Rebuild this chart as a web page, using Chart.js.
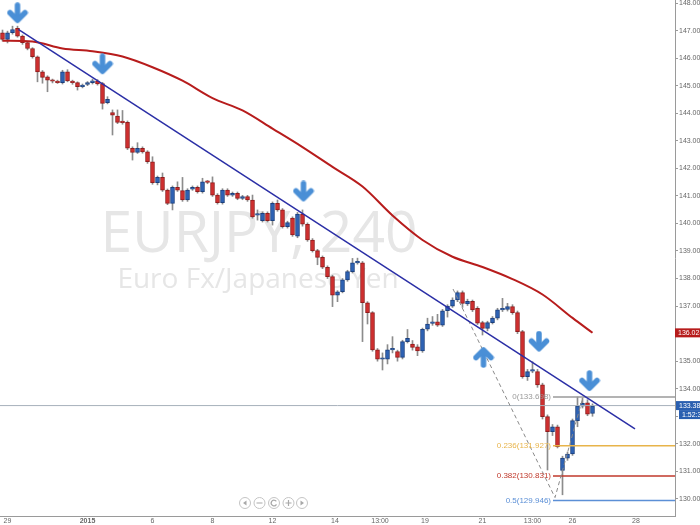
<!DOCTYPE html>
<html>
<head>
<meta charset="utf-8">
<script src="https://cdn.jsdelivr.net/npm/chart.js@4.4.1/dist/chart.umd.min.js"></script>
<style>
  html, body { margin: 0; padding: 0; background: #fff; }
  canvas { display: block; }
</style>
</head>
<body>
<canvas id="chart" width="700" height="525"></canvas>
<script>
// EURJPY 4h candles, 29 Dec 2014 -> 27 Jan 2015 (one entry per candle)
const opens = [
  146.92, 146.68, 146.92, 147.08, 146.80, 146.56, 146.35, 146.05, 145.50, 145.32,
  145.20, 145.17, 145.11, 145.50, 145.17, 145.11, 144.96, 145.05, 145.11, 145.17,
  145.08, 144.38, 144.02, 143.90, 143.68, 143.67, 142.73, 142.58, 142.73, 142.60,
  142.24, 141.48, 141.67, 141.21, 140.73, 141.31, 141.19, 140.85, 141.24, 141.31,
  141.15, 141.51, 141.48, 141.03, 140.75, 141.21, 141.03, 141.09, 140.91, 140.97,
  140.85, 140.30, 140.10, 140.37, 140.10, 140.73, 140.49, 139.88, 140.19, 139.54,
  140.34, 139.97, 139.40, 139.01, 138.77, 138.41, 138.07, 137.40, 137.52, 137.95,
  138.25, 138.57, 138.57, 137.12, 136.76, 135.41, 135.07, 135.07, 135.41, 135.35,
  135.14, 135.71, 135.62, 135.52, 135.37, 136.16, 136.37, 136.43, 136.31, 136.83,
  137.00, 137.22, 137.49, 137.08, 137.17, 136.92, 136.40, 136.19, 136.40, 136.56,
  136.86, 136.88, 136.98, 136.76, 136.07, 134.44, 134.64, 134.62, 134.14, 132.99,
  132.44, 132.62, 131.03, 131.48, 131.63, 132.84, 133.37, 133.49, 133.10
];
const highs = [
  147.02, 146.98, 147.16, 147.16, 146.84, 146.60, 146.38, 146.08, 145.55, 145.36,
  145.24, 145.20, 145.56, 145.58, 145.20, 145.14, 145.06, 145.15, 145.24, 145.22,
  145.12, 144.60, 144.12, 144.12, 144.10, 143.72, 142.78, 142.93, 142.78, 142.64,
  142.42, 141.72, 141.83, 141.25, 141.36, 141.51, 141.67, 141.26, 141.36, 141.36,
  141.64, 141.56, 141.69, 141.08, 141.26, 141.26, 141.14, 141.14, 141.02, 141.02,
  141.03, 140.49, 140.42, 140.42, 140.78, 140.85, 140.54, 140.08, 140.24, 140.40,
  140.49, 140.02, 139.45, 139.06, 138.82, 138.46, 138.12, 137.56, 138.00, 138.30,
  138.73, 138.74, 138.62, 137.16, 136.80, 135.46, 135.30, 135.60, 135.89, 135.40,
  135.76, 136.15, 135.75, 135.60, 136.20, 136.56, 136.62, 136.70, 136.88, 137.05,
  137.30, 137.55, 137.55, 137.25, 137.22, 136.98, 136.45, 136.45, 136.62, 136.92,
  137.28, 137.10, 137.05, 136.82, 136.12, 134.70, 134.98, 134.70, 134.20, 133.05,
  132.70, 132.68, 131.55, 131.70, 132.90, 133.70, 133.65, 133.60, 133.45
];
const lows = [
  146.62, 146.55, 146.87, 146.76, 146.50, 146.30, 146.00, 145.14, 145.09, 144.78,
  145.10, 145.08, 145.06, 145.14, 145.05, 144.84, 144.92, 145.00, 145.06, 145.02,
  144.15, 144.34, 143.21, 143.62, 143.60, 142.68, 142.30, 142.54, 142.55, 142.18,
  141.42, 141.40, 141.16, 140.68, 140.49, 141.16, 140.80, 140.80, 141.20, 141.10,
  141.10, 141.44, 140.98, 140.70, 140.70, 140.98, 140.98, 140.86, 140.86, 140.80,
  140.19, 140.12, 140.05, 140.05, 139.94, 140.44, 139.83, 139.83, 139.53, 139.48,
  139.90, 139.35, 138.96, 138.50, 138.36, 138.00, 136.98, 137.16, 137.48, 137.90,
  138.20, 138.52, 135.71, 136.35, 135.36, 135.00, 134.68, 134.90, 135.30, 135.00,
  135.08, 135.66, 135.40, 135.20, 135.32, 136.10, 136.30, 136.26, 136.26, 136.60,
  136.95, 137.16, 136.95, 137.02, 136.80, 136.33, 135.95, 136.10, 136.35, 136.50,
  136.80, 136.82, 136.70, 136.00, 134.38, 134.30, 134.58, 134.05, 132.90, 131.05,
  132.30, 131.85, 130.15, 131.40, 131.58, 132.62, 133.30, 133.02, 133.00
];
const closes = [
  146.68, 146.92, 147.04, 146.80, 146.56, 146.35, 146.05, 145.50, 145.30, 145.20,
  145.16, 145.11, 145.50, 145.17, 145.11, 144.96, 145.02, 145.11, 145.18, 145.06,
  144.36, 144.50, 143.93, 143.67, 143.66, 142.73, 142.58, 142.73, 142.60, 142.24,
  141.48, 141.67, 141.21, 140.73, 141.31, 141.21, 140.85, 141.21, 141.31, 141.15,
  141.51, 141.49, 141.03, 140.75, 141.21, 141.03, 141.09, 140.91, 140.97, 140.85,
  140.24, 140.32, 140.37, 140.10, 140.73, 140.49, 139.88, 140.03, 139.58, 140.34,
  139.97, 139.40, 139.01, 138.77, 138.41, 138.07, 137.40, 137.52, 137.95, 138.25,
  138.57, 138.59, 137.12, 136.76, 135.41, 135.07, 135.09, 135.41, 135.43, 135.14,
  135.71, 135.83, 135.50, 135.37, 136.16, 136.35, 136.40, 136.31, 136.83, 137.00,
  137.22, 137.49, 137.10, 137.17, 136.86, 136.38, 136.19, 136.40, 136.56, 136.86,
  136.89, 136.98, 136.76, 136.07, 134.44, 134.62, 134.66, 134.14, 132.99, 132.44,
  132.62, 131.90, 131.48, 131.63, 132.84, 133.37, 133.47, 133.08, 133.37
];

// moving average (red), read at roughly one point per day
const maSlots  = [0, 6, 12, 18, 24, 30, 36, 42, 48, 54, 60, 66, 72, 78, 84, 90, 96, 102, 108, 114, 118];
const maValues = [146.63, 146.60, 146.35, 146.25, 146.06, 145.67, 145.18, 144.55, 144.10, 143.44,
                  142.77, 142.05, 141.34, 140.29, 139.40, 138.79, 138.42, 137.98, 137.42, 136.57, 136.03];
const maLast = '136.028';

// drawn objects
const trendSlots = [3.16, 126.5];
const trendValues = [147.04, 132.54];
const zigzagSlots = [90.1, 110.5, 116.1];
const zigzagValues = [137.62, 130.05, 133.70];

const fibLevels = ['0', '0.236', '0.382', '0.5'];
const fibPrices = [133.698, 131.927, 130.831, 129.946];
const fibColors = ['#9a9a9a', '#e8b44a', '#c0392b', '#5b8fd6'];
const fibStart = 110.1;

const lastPrice = 133.388;
const countdown = '1:52:30';

const downArrowSlots = [3.0, 20.0, 60.2, 107.3, 117.4];
const downArrowValues = [147.63, 145.78, 141.16, 135.71, 134.28];
const upArrowSlots = [96.2];
const upArrowValues = [135.15];

const tickSlots = [1, 17, 30, 42, 54, 66.5, 75.5, 84.5, 96, 106, 114, 126.7];
const tickLabels = ['29', '2015', '6', '8', '12', '14', '13:00', '19', '21', '13:00', '26', '28'];

const xMin = -0.5;
const xMax = 134.5;
const yMin = 129.38;
const yMax = 148.11;

const RED = '#d02e2e';
const RED_EDGE = '#8f1d1d';
const BLUE = '#2d62b5';
const BLUE_EDGE = '#1b3f7c';
const ARROW = '#4a8fd6';

const pts = (xs, ys) => xs.map((x, i) => ({ x, y: ys[i] }));

const bodies = opens.map((o, i) => ({ x: i, y: [o, closes[i]] }));
const wicks = lows.map((l, i) => ({ x: i, y: [l, highs[i]] }));
const isUp = opens.map((o, i) => closes[i] >= o);

// arrow images used as point styles
function makeArrow(up) {
  const c = document.createElement('canvas');
  c.width = 22;
  c.height = 22;
  const g = c.getContext('2d');
  if (up) {
    g.translate(11, 11);
    g.rotate(Math.PI);
    g.translate(-11, -11);
  }
  g.strokeStyle = ARROW;
  g.lineWidth = 5.5;
  g.lineCap = 'round';
  g.lineJoin = 'round';
  g.beginPath();
  g.moveTo(11, 3);
  g.lineTo(11, 17);
  g.stroke();
  g.beginPath();
  g.moveTo(3.5, 10.5);
  g.lineTo(11, 18);
  g.lineTo(18.5, 10.5);
  g.stroke();
  return c;
}
const downArrow = makeArrow(false);
const upArrow = makeArrow(true);

const datasets = [
  {
    type: 'bar',
    label: 'wicks',
    data: wicks,
    backgroundColor: '#8c8c8c',
    barThickness: 1,
    grouped: false,
    order: 5
  },
  {
    type: 'bar',
    label: 'candles',
    data: bodies,
    backgroundColor: isUp.map(u => u ? BLUE : RED),
    borderColor: isUp.map(u => u ? BLUE_EDGE : RED_EDGE),
    borderWidth: 1,
    borderSkipped: false,
    barThickness: 4,
    minBarLength: 1.5,
    grouped: false,
    order: 4
  },
  {
    type: 'line',
    label: 'last',
    data: pts([xMin, xMax], [lastPrice, lastPrice]),
    borderColor: '#a7b1bb',
    borderWidth: 1,
    pointRadius: 0,
    order: 3
  },
  ...fibPrices.map((p, i) => ({
    type: 'line',
    label: 'fib ' + fibLevels[i],
    data: pts([fibStart, xMax], [p, p]),
    borderColor: fibColors[i],
    borderWidth: 1.5,
    pointRadius: 0,
    order: 3
  })),
  {
    type: 'line',
    label: 'zigzag',
    data: pts(zigzagSlots, zigzagValues),
    borderColor: '#8a8a8a',
    borderWidth: 1,
    borderDash: [4, 3],
    pointRadius: 0,
    order: 2
  },
  {
    type: 'line',
    label: 'MA',
    data: pts(maSlots, maValues),
    borderColor: '#b71c1c',
    borderWidth: 2,
    pointRadius: 0,
    cubicInterpolationMode: 'monotone',
    order: 2
  },
  {
    type: 'line',
    label: 'trend',
    data: pts(trendSlots, trendValues),
    borderColor: '#2b2fa6',
    borderWidth: 1.5,
    pointRadius: 0,
    order: 1
  },
  {
    type: 'line',
    label: 'down arrows',
    data: pts(downArrowSlots, downArrowValues),
    showLine: false,
    pointStyle: downArrow,
    pointRadius: 10,
    order: 0
  },
  {
    type: 'line',
    label: 'up arrows',
    data: pts(upArrowSlots, upArrowValues),
    showLine: false,
    pointStyle: upArrow,
    pointRadius: 10,
    order: 0
  }
];

// big symbol watermark behind the candles
const watermark = {
  id: 'watermark',
  beforeDatasetsDraw(chart) {
    const ctx = chart.ctx;
    ctx.save();
    ctx.fillStyle = '#e6e6e6';
    ctx.textAlign = 'center';
    ctx.textBaseline = 'alphabetic';
    ctx.font = '57px "Open Sans"';
    ctx.fillText('EURJPY, 240', 259, 252);
    ctx.font = '28px "Open Sans"';
    ctx.fillText('Euro Fx/Japanese Yen', 258, 288);
    ctx.restore();
  }
};

// fib texts, price boxes on the axis, zoom buttons
const overlays = {
  id: 'overlays',
  afterDraw(chart) {
    const ctx = chart.ctx;
    const x = chart.scales.x;
    const y = chart.scales.y;
    const area = chart.chartArea;
    ctx.save();

    ctx.font = '8px "Liberation Sans"';
    ctx.textAlign = 'right';
    ctx.textBaseline = 'middle';
    const fx = x.getPixelForValue(fibStart) - 2;
    fibPrices.forEach((p, i) => {
      ctx.fillStyle = fibColors[i];
      ctx.fillText(fibLevels[i] + '(' + p.toFixed(3) + ')', fx, y.getPixelForValue(p));
    });

    function box(value, text, color, dy, left) {
      const py = y.getPixelForValue(value) + dy;
      ctx.fillStyle = color;
      ctx.fillRect(area.right + left, py - 4.5, chart.width - area.right - left, 9);
      ctx.fillStyle = '#fff';
      ctx.font = '7px "Liberation Sans"';
      ctx.textAlign = 'left';
      ctx.textBaseline = 'middle';
      ctx.fillText(text, area.right + left + 3, py + 0.5);
    }
    box(parseFloat(maLast), maLast, '#b71c1c', 0, 0);
    box(lastPrice, lastPrice.toFixed(3), '#2a5fb0', 0, 1);
    box(lastPrice, countdown, '#2a5fb0', 9, 4);

    // navigation buttons
    const bx = [245, 259.5, 274, 288.5, 302];
    const by = 503;
    ctx.strokeStyle = '#c4c4c4';
    ctx.lineWidth = 1;
    bx.forEach(cx => {
      ctx.beginPath();
      ctx.arc(cx, by, 5.5, 0, Math.PI * 2);
      ctx.fillStyle = '#fff';
      ctx.fill();
      ctx.stroke();
    });
    ctx.fillStyle = '#a8a8a8';
    ctx.strokeStyle = '#a8a8a8';
    ctx.beginPath();
    ctx.moveTo(bx[0] + 1.5, by - 2.5); ctx.lineTo(bx[0] - 2, by); ctx.lineTo(bx[0] + 1.5, by + 2.5);
    ctx.fill();
    ctx.beginPath();
    ctx.moveTo(bx[4] - 1.5, by - 2.5); ctx.lineTo(bx[4] + 2, by); ctx.lineTo(bx[4] - 1.5, by + 2.5);
    ctx.fill();
    ctx.lineWidth = 1.2;
    ctx.beginPath();
    ctx.moveTo(bx[1] - 3, by); ctx.lineTo(bx[1] + 3, by);
    ctx.moveTo(bx[3] - 3, by); ctx.lineTo(bx[3] + 3, by);
    ctx.moveTo(bx[3], by - 3); ctx.lineTo(bx[3], by + 3);
    ctx.stroke();
    ctx.beginPath();
    ctx.arc(bx[2], by, 2.8, 0.5, Math.PI * 1.8);
    ctx.stroke();
    ctx.restore();
  }
};

new Chart(document.getElementById('chart').getContext('2d'), {
  type: 'bar',
  data: { datasets },
  options: {
    responsive: false,
    animation: false,
    events: [],
    layout: { padding: 0, autoPadding: false },
    plugins: {
      legend: { display: false },
      tooltip: { enabled: false },
      title: { display: false }
    },
    scales: {
      x: {
        type: 'linear',
        position: 'bottom',
        min: xMin,
        max: xMax,
        offset: false,
        grid: { display: false, drawTicks: false, offset: false },
        border: { color: '#9a9a9a' },
        afterBuildTicks: scale => {
          scale.ticks = tickSlots.map(v => ({ value: v }));
        },
        afterFit: scale => {
          scale.height = 9;
          scale.paddingLeft = 0;
          scale.paddingRight = 0;
        },
        ticks: {
          autoSkip: false,
          maxRotation: 0,
          padding: 1,
          color: '#666',
          font: ctx => ({
            family: '"Liberation Sans"',
            size: 7,
            weight: ctx.tick && ctx.tick.value === 17 ? 'bold' : 'normal'
          }),
          callback: (value, index) => tickLabels[index]
        }
      },
      y: {
        type: 'linear',
        position: 'right',
        min: yMin,
        max: yMax,
        grid: { drawOnChartArea: false, drawTicks: true, tickLength: 3, color: '#9a9a9a' },
        border: { color: '#9a9a9a' },
        afterFit: scale => {
          scale.width = 25;
          scale.paddingTop = 0;
          scale.paddingBottom = 0;
        },
        ticks: {
          stepSize: 1,
          includeBounds: false,
          padding: 1,
          color: '#666',
          font: { family: '"Liberation Sans"', size: 7 },
          callback: v => v.toFixed(3)
        }
      }
    }
  },
  plugins: [watermark, overlays]
});
</script>
</body>
</html>
